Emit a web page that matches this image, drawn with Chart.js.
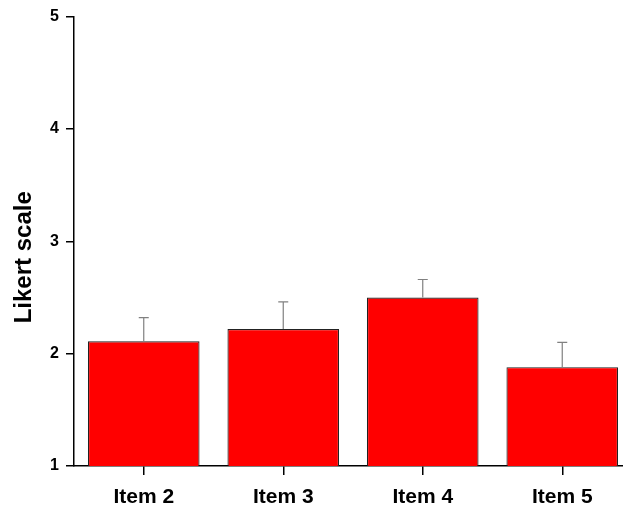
<!DOCTYPE html>
<html>
<head>
<meta charset="utf-8">
<script src="https://cdn.jsdelivr.net/npm/chart.js@4"></script>
<style>
  html, body { margin: 0; padding: 0; background: #fff; overflow: hidden; }
  #wrap { width: 640px; height: 509px; }
</style>
</head>
<body>
<div id="wrap"><canvas id="likertChart" width="640" height="509"></canvas></div>
<script>
var items = ['Item 2', 'Item 3', 'Item 4', 'Item 5'];
var means = [2.11, 2.22, 2.50, 1.88];
var errors = [0.21, 0.24, 0.16, 0.22];
var yTicks = [1, 2, 3, 4, 5];
var yTitle = 'Likert scale';

// draws the upper half of each error bar with a small cap
var errorBarPlugin = {
    id: 'errorBars',
    afterDatasetsDraw: function(chart) {
        var ctx = chart.ctx;
        var yScale = chart.scales.y;
        var meta = chart.getDatasetMeta(0);
        ctx.save();
        ctx.strokeStyle = '#808080';
        ctx.lineWidth = 1.2;
        meta.data.forEach(function(bar, i) {
            var yBase = yScale.getPixelForValue(means[i]);
            var yTop = yScale.getPixelForValue(means[i] + errors[i]);
            ctx.beginPath();
            ctx.moveTo(bar.x, yBase);
            ctx.lineTo(bar.x, yTop);
            ctx.moveTo(bar.x - 5, yTop);
            ctx.lineTo(bar.x + 5, yTop);
            ctx.stroke();
        });
        ctx.restore();
    }
};

// y title sits a bit below the axis middle in the original
var yTitlePlugin = {
    id: 'yTitle',
    afterDraw: function(chart) {
        var ctx = chart.ctx;
        var yScale = chart.scales.y;
        var cy = (yScale.top + yScale.bottom) / 2 + 16;
        ctx.save();
        ctx.translate(24, cy);
        ctx.rotate(-Math.PI / 2);
        ctx.fillStyle = '#000';
        ctx.font = 'bold 24px "Liberation Sans", Arial, sans-serif';
        ctx.textAlign = 'center';
        ctx.textBaseline = 'middle';
        ctx.fillText(yTitle, 0, 0);
        ctx.restore();
    }
};

var likertChart = new Chart(document.getElementById('likertChart'), {
    type: 'bar',
    data: {
        labels: items,
        datasets: [{
            data: means,
            backgroundColor: '#ff0000',
            borderColor: '#222222',
            borderWidth: 1.2,
            borderSkipped: false,
            barPercentage: 0.8,
            categoryPercentage: 1.0
        }]
    },
    options: {
        animation: false,
        responsive: false,
        layout: {
            padding: { top: 15, right: 8, bottom: 0, left: 0 }
        },
        plugins: {
            legend: { display: false },
            tooltip: { enabled: false }
        },
        scales: {
            x: {
                offset: true,
                afterFit: function(scale) {
                    scale.height = 43;
                },
                grid: {
                    offset: false,
                    drawOnChartArea: false,
                    drawTicks: true,
                    tickLength: 9,
                    color: '#000',
                    lineWidth: 1.5
                },
                border: { color: '#000', width: 1.5 },
                ticks: {
                    color: '#000',
                    padding: 10,
                    font: { family: 'Liberation Sans, Arial, sans-serif', size: 21, weight: 'bold' }
                }
            },
            y: {
                min: 1,
                max: 5,
                afterBuildTicks: function(scale) {
                    scale.ticks = yTicks.map(function(v) { return { value: v }; });
                },
                afterFit: function(scale) {
                    scale.width = 74;
                },
                grid: {
                    drawOnChartArea: false,
                    drawTicks: true,
                    tickLength: 8,
                    color: '#000',
                    lineWidth: 1.5
                },
                border: { color: '#000', width: 1.5 },
                ticks: {
                    color: '#000',
                    padding: 7,
                    font: { family: 'Liberation Sans, Arial, sans-serif', size: 16, weight: 'bold' }
                }
            }
        }
    },
    plugins: [errorBarPlugin, yTitlePlugin]
});
</script>
</body>
</html>
